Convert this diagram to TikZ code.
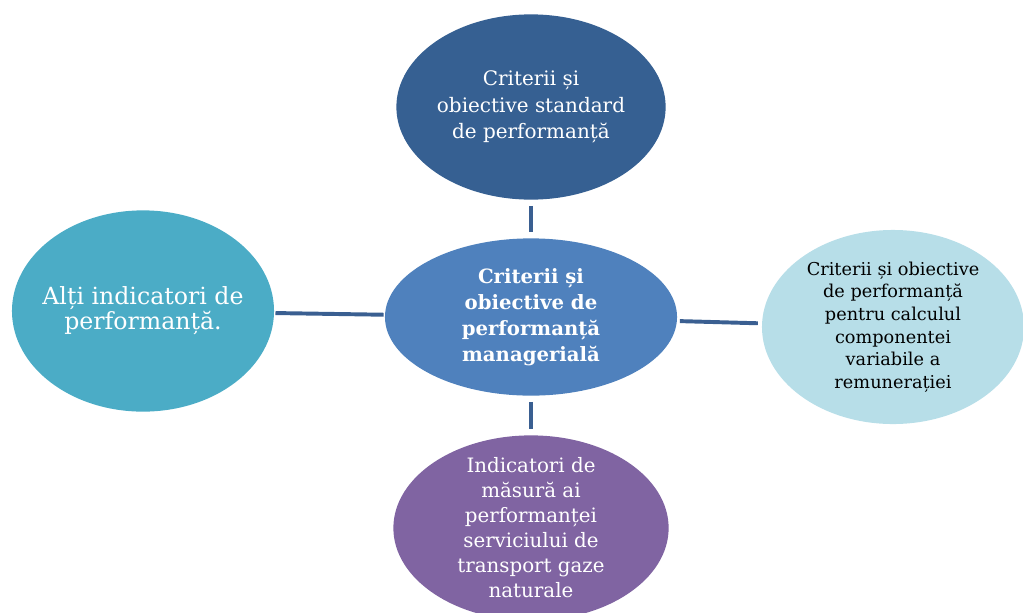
\documentclass[tikz,border=0pt]{standalone}
\usepackage{fontspec}
\setmainfont{DejaVu Serif}
\usetikzlibrary{shapes.geometric}

\definecolor{stdblue}{RGB}{54,96,146}
\definecolor{midblue}{RGB}{79,129,189}
\definecolor{aqua}{RGB}{75,172,198}
\definecolor{paleaqua}{RGB}{183,222,232}
\definecolor{violet}{RGB}{128,100,162}
\definecolor{linkblue}{RGB}{58,95,145}

\begin{document}
\begin{tikzpicture}[x=0.025cm, y=-0.025cm,
    bubble/.style={ellipse, inner xsep=-0.6cm, inner ysep=-0.6cm, align=center},
    link/.style={draw=linkblue, line width=2.8pt}]

      \clip (0,0) rectangle (1023,612);

      \node[bubble, fill=midblue, text=white, font=\bfseries\fontsize{14}{18.6}\selectfont,
        minimum width=7.3cm, minimum height=3.93cm] (main) at (531,317)
        {Criterii și\\obiective de\\performanță\\managerială};
      \node[bubble, fill=stdblue, text=white, font=\fontsize{14.2}{18.8}\selectfont,
        minimum width=6.73cm, minimum height=4.63cm] (std) at (531,107)
        {Criterii și\\obiective standard\\de performanță};
      \node[bubble, fill=aqua, text=white, font=\fontsize{16.8}{17.8}\selectfont,
        minimum width=6.55cm, minimum height=5.03cm] (other) at (143,311)
        {Alți indicatori de\\performanță.};
      \node[bubble, fill=paleaqua, text=black, font=\fontsize{12.6}{16.1}\selectfont,
        minimum width=6.55cm, minimum height=4.85cm] (pay) at (893,327)
        {Criterii și obiective\\de performanță\\pentru calculul\\componentei\\variabile a\\remunerației};
      \node[bubble, fill=violet, text=white, font=\fontsize{14.1}{17.8}\selectfont,
        minimum width=6.88cm, minimum height=4.63cm] (gas) at (531,528)
        {Indicatori de\\măsură ai\\performanței\\serviciului de\\transport gaze\\naturale};

      \draw[link, shorten <=0.15cm, shorten >=0.15cm] (std) -- (main);
      \draw[link, shorten <=0.15cm, shorten >=0.15cm] (main) -- (gas);
      \draw[link, shorten <=0.03cm, shorten >=0.03cm] (other) -- (main);
      \draw[link, shorten <=0.07cm, shorten >=0.1cm] (main) -- (pay);

    \end{tikzpicture}
\end{document}
